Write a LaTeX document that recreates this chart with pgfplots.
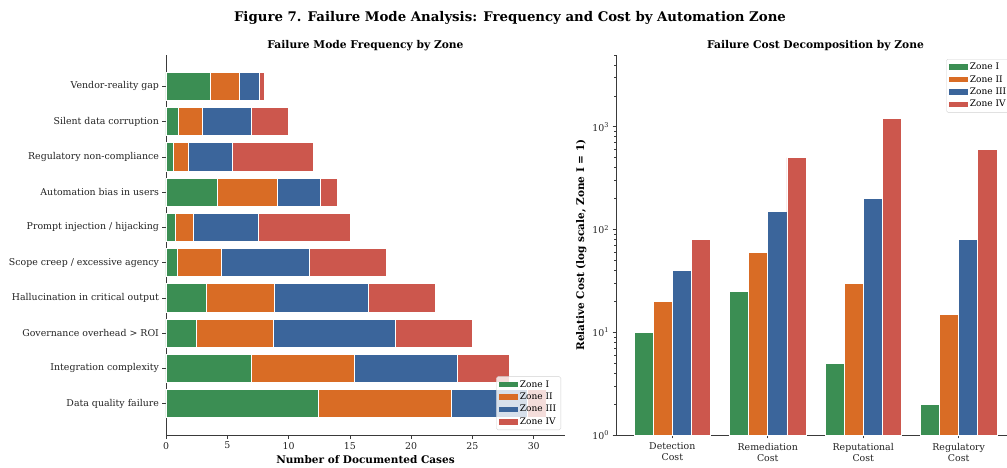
\documentclass[border=0pt]{standalone}
\usepackage{pgfplots}
\pgfplotsset{compat=1.18}
\usepackage{pgfplotstable}
\usepackage{fontspec}
\setmainfont{DejaVu Serif}

\definecolor{zoneI}{HTML}{3B8E53}
\definecolor{zoneII}{HTML}{D96C25}
\definecolor{zoneIII}{HTML}{3B659B}
\definecolor{zoneIV}{HTML}{CC574D}
\definecolor{spine}{HTML}{3A3A3A}
\definecolor{labeltext}{HTML}{222222}

% Failure mode frequency per zone (row 0 = bottom bar)
\pgfplotstableread{
pos z1    z2    z3    z4
0   12.4  10.85 6.2   1.55
1   7.0   8.4   8.4   4.2
2   2.5   6.25  10.0  6.25
3   3.3   5.5   7.7   5.5
4   0.9   3.6   7.2   6.3
5   0.75  1.5   5.25  7.5
6   4.2   4.9   3.5   1.4
7   0.6   1.2   3.6   6.6
8   1.0   2.0   4.0   3.0
9   3.6   2.4   1.6   0.4
}\freqtable

% Relative failure cost per zone (Zone I = 1)
\pgfplotstableread{
pos z1  z2  z3   z4
0   10  20  40   80
1   25  60  150  500
2   5   30  200  1200
3   2   15  80   600
}\costtable

\pgfplotsset{
  zonebar/.style={fill=#1, draw=white, line width=0.7pt,
    legend image code/.code={\fill[fill=#1, fill opacity=1, draw=none, sharp corners] (0pt,-2.8pt) rectangle (19pt,2.8pt);}},
  panel/.style={
    scale only axis,
    width=399pt, height=380pt,
    axis lines*=left,
    axis line style={spine, line width=0.8pt, -},
    tick align=outside,
    major tick length=3.5pt,
    minor tick length=2pt,
    every tick/.style={spine, line width=0.7pt},
    tick label style={font=\fontsize{9.4}{11}\selectfont, text=labeltext},
    /pgf/number format/assume math mode=true,
    title style={font=\bfseries\fontsize{10.7}{13}\selectfont, at={(0.5,1)}, anchor=center, yshift=3pt},
    label style={font=\bfseries\fontsize{10.5}{12.5}\selectfont},
    legend cell align=left,
    legend style={draw=black!18, fill=white, fill opacity=0.8, text opacity=1,
      rounded corners=1.5pt, font=\fontsize{9}{10.5}\selectfont,
      inner xsep=2.5pt, inner ysep=2pt, row sep=0.3pt},
  },
}

\begin{document}
\begin{tikzpicture}

% ---------- left panel: stacked horizontal bars ----------
\begin{axis}[
  panel,
  at={(0pt,0pt)}, anchor=south west,
  title={Failure Mode Frequency by Zone},
  xbar stacked, bar width=0.8,
  xmin=0, xmax=32.55,
  ymin=-0.89, ymax=9.89,
  xtick={0,5,10,15,20,25,30},
  ytick={0,...,9},
  yticklabels={Data quality failure, Integration complexity, Governance overhead > ROI,
    Hallucination in critical output, Scope creep / excessive agency,
    Prompt injection / hijacking, Automation bias in users,
    Regulatory non-compliance, Silent data corruption, Vendor-reality gap},
  xlabel={Number of Documented Cases},
  legend style={at={(1,0)}, anchor=south east, xshift=-4pt, yshift=5pt},
]
\addplot[zonebar=zoneI]   table[x=z1, y=pos] {\freqtable};
\addplot[zonebar=zoneII]  table[x=z2, y=pos] {\freqtable};
\addplot[zonebar=zoneIII] table[x=z3, y=pos] {\freqtable};
\addplot[zonebar=zoneIV]  table[x=z4, y=pos] {\freqtable};
\legend{Zone I, Zone II, Zone III, Zone IV}
\end{axis}

% ---------- right panel: grouped bars on a log scale ----------
\begin{axis}[
  panel,
  at={(450pt,0pt)}, anchor=south west,
  title={Failure Cost Decomposition by Zone},
  ymode=log, log basis y=10,
  ybar, bar width=0.2,
  xmin=-0.59, xmax=3.59,
  ymin=1, ymax=5000,
  xtick={0,1,2,3},
  xticklabels={{Detection\\Cost}, {Remediation\\Cost}, {Reputational\\Cost}, {Regulatory\\Cost}},
  xticklabel style={align=center, yshift=-1pt},
  ytick={1,10,100,1000},
  yticklabels={10\textsuperscript{0}, 10\textsuperscript{1}, 10\textsuperscript{2}, 10\textsuperscript{3}},
  minor ytick={2,3,4,5,6,7,8,9,20,30,40,50,60,70,80,90,200,300,400,500,600,700,800,900,2000,3000,4000,5000},
  ylabel={Relative Cost (log scale, Zone I = 1)},
  ylabel style={yshift=-1pt},
  legend style={at={(1,1)}, anchor=north east, xshift=-4pt, yshift=-4pt},
]
\addplot[zonebar=zoneI,   bar shift=-0.3] table[x=pos, y=z1] {\costtable};
\addplot[zonebar=zoneII,  bar shift=-0.1] table[x=pos, y=z2] {\costtable};
\addplot[zonebar=zoneIII, bar shift=0.1]  table[x=pos, y=z3] {\costtable};
\addplot[zonebar=zoneIV,  bar shift=0.3]  table[x=pos, y=z4] {\costtable};
\legend{Zone I, Zone II, Zone III, Zone IV}
\end{axis}

\node[font=\bfseries\fontsize{13.3}{16}\selectfont, text=black] at (344pt,417pt)
  {Figure 7. Failure Mode Analysis: Frequency and Cost by Automation Zone};

\pgfresetboundingbox
\path[use as bounding box] (-166pt,-32pt) rectangle (841pt,435pt);
\end{tikzpicture}
\end{document}
